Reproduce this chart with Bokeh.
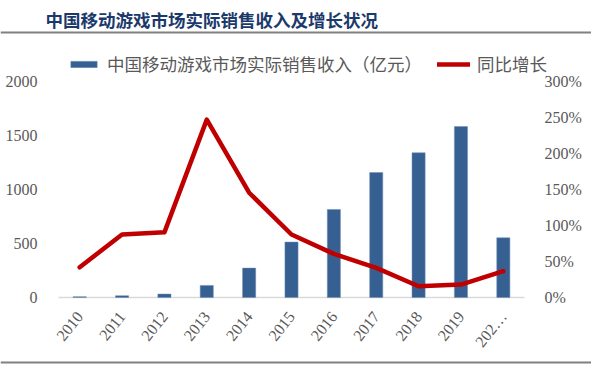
import math
from bokeh.plotting import figure
from bokeh.models import (Range1d, LinearAxis, FixedTicker, NumeralTickFormatter,
                          ColumnDataSource, Legend, LegendItem)
from bokeh.embed import file_html
from bokeh.resources import INLINE
from bokeh.core.properties import value

# ---- data ----
title_text = "中国移动游戏市场实际销售收入及增长状况"
years = ["2010", "2011", "2012", "2013", "2014", "2015", "2016", "2017", "2018", "2019", "202…"]
revenue = [8, 17, 32, 112, 272, 513, 815, 1157, 1340, 1583, 553]
growth = [0.42, 0.875, 0.905, 2.47, 1.455, 0.875, 0.606, 0.412, 0.157, 0.18, 0.366]
bar_label = "中国移动游戏市场实际销售收入（亿元）"
line_label = "同比增长"
left_ticks = [0, 500, 1000, 1500, 2000]
right_ticks = [0, 0.5, 1.0, 1.5, 2.0, 2.5, 3.0]

# ---- canvas / layout geometry (pixels) ----
W, H = 591, 368
plot_left, plot_right = 58, 524          # canvas x of plot area
zero_y, top_y = 297, 81                  # canvas y of value 0 and of 2000 / 300%
n = len(years)
step = (plot_right - plot_left) / n      # px per category
xs0 = -(plot_left + step / 2) / step     # data x at canvas left
xs1 = xs0 + W / step
upx = 2000 / (zero_y - top_y)            # units per px, left axis
ppx = 3.0 / (zero_y - top_y)             # units per px, right axis
ys0 = -(H - zero_y) * upx
ys1 = zero_y * upx


def dx(cx):
    return xs0 + cx / step


def dy(cy):
    return ys0 + (H - cy) * upx


CJK = "Noto Sans CJK SC"
SERIF = "'Liberation Serif', serif"
GRAY = "#595959"

xpos = list(range(n))
src = ColumnDataSource(dict(x=xpos, year=years, revenue=revenue, growth=growth))

p = figure(width=W, height=H, x_range=Range1d(xs0, xs1), y_range=Range1d(ys0, ys1),
           toolbar_location=None, output_backend="svg", min_border=0,
           outline_line_color=None, x_axis_location=None, y_axis_location=None)
p.extra_y_ranges = {"pct": Range1d(-(H - zero_y) * ppx, zero_y * ppx)}
p.grid.visible = False

# header and footer rules + title
p.text(x=[dx(45)], y=[dy(19)], text=[title_text], text_font=value(CJK), text_font_style="bold",
       text_font_size="17.5px", text_color="#1B3A6B", text_baseline="middle", text_align="left")
p.segment(x0=[xs0], x1=[xs1], y0=[dy(32)], y1=[dy(32)], line_color="#808080", line_width=2)
p.segment(x0=[xs0], x1=[xs1], y0=[dy(362)], y1=[dy(362)], line_color="#808080", line_width=2)

# baseline of category axis
p.segment(x0=[-0.5], x1=[n - 0.5], y0=[0], y1=[0], line_color="#D9D9D9", line_width=1.5)

bars = p.vbar(x="x", top="revenue", width=0.31, source=src,
              fill_color="#376092", line_color="#6F8DB5", line_width=0.5)
ln = p.line(x="x", y="growth", source=src, y_range_name="pct",
            line_color="#C00000", line_width=4.5, line_join="round", line_cap="round")

# left axis
ya = LinearAxis(ticker=FixedTicker(ticks=left_ticks), fixed_location=-0.5)
ya.axis_line_color = None
ya.major_tick_line_color = None
ya.minor_tick_line_color = None
ya.major_label_standoff = 15
ya.major_label_text_font = SERIF
ya.major_label_text_font_size = "16px"
ya.major_label_text_color = GRAY
p.add_layout(ya, "left")

# right axis
ra = LinearAxis(y_range_name="pct", ticker=FixedTicker(ticks=right_ticks),
                formatter=NumeralTickFormatter(format="0%"), fixed_location=n - 0.5)
ra.axis_line_color = None
ra.major_tick_line_color = None
ra.minor_tick_line_color = None
ra.major_label_standoff = 14
ra.major_label_text_font = SERIF
ra.major_label_text_font_size = "16px"
ra.major_label_text_color = GRAY
p.add_layout(ra, "right")

# category axis
xa = LinearAxis(ticker=FixedTicker(ticks=xpos), fixed_location=0,
                major_label_overrides={i: y for i, y in zip(xpos, years)})
xa.axis_line_color = None
xa.major_tick_line_color = None
xa.minor_tick_line_color = None
xa.major_label_orientation = 0.9
xa.major_label_standoff = 10
xa.major_label_text_font = SERIF
xa.major_label_text_font_size = "16px"
xa.major_label_text_color = GRAY
p.add_layout(xa, "below")

legend = Legend(items=[LegendItem(label=bar_label, renderers=[bars]),
                       LegendItem(label=line_label, renderers=[ln])],
                orientation="horizontal", location=(67, H - 65 - 11),
                margin=0, padding=0, spacing=15, label_standoff=7,
                glyph_width=33, glyph_height=8, label_height=22,
                label_text_font=CJK, label_text_font_size="17.5px", label_text_color=GRAY,
                border_line_alpha=0, background_fill_alpha=0)
p.add_layout(legend)

open("out.html", "w").write(file_html(p, INLINE))
